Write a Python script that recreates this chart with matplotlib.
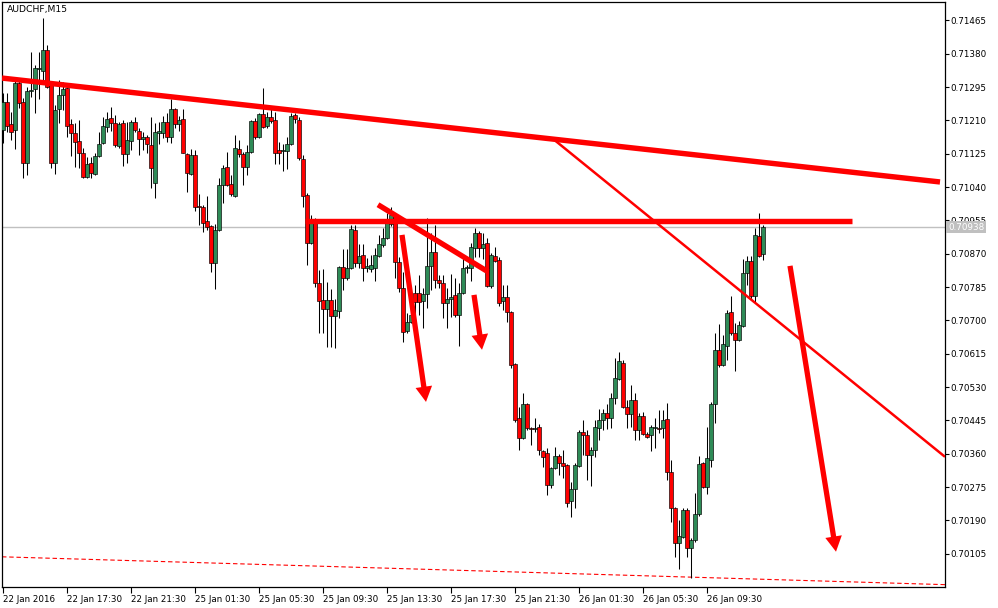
import matplotlib
matplotlib.use("Agg")
import matplotlib.pyplot as plt
from matplotlib.patches import FancyArrowPatch
import numpy as np

title = "AUDCHF,M15"

opens = [
    0.71186, 0.71257, 0.71201, 0.71186, 0.71306, 0.71257, 0.71102, 0.71285, 0.71290, 0.71341,
    0.71336, 0.71390, 0.71301, 0.71102, 0.71239, 0.71275, 0.71293, 0.71201, 0.71178, 0.71158,
    0.71127, 0.71066, 0.71102, 0.71074, 0.71120, 0.71153, 0.71194, 0.71216, 0.71204, 0.71145,
    0.71204, 0.71125, 0.71158, 0.71206, 0.71183, 0.71163, 0.71168, 0.71148, 0.71051, 0.71178,
    0.71178, 0.71206, 0.71168, 0.71239, 0.71201, 0.71214, 0.71125, 0.71074, 0.71122, 0.70992,
    0.70989, 0.70954, 0.70941, 0.70847, 0.70931, 0.71046, 0.71091, 0.71048, 0.71017, 0.71137,
    0.71125, 0.71091, 0.71130, 0.71209, 0.71168, 0.71227, 0.71196, 0.71219, 0.71211, 0.71135,
    0.71132, 0.71132, 0.71150, 0.71224, 0.71211, 0.71112, 0.71020, 0.70898, 0.70949, 0.70796,
    0.70752, 0.70729, 0.70752, 0.70712, 0.70724, 0.70836, 0.70808, 0.70834, 0.70931, 0.70847,
    0.70867, 0.70834, 0.70831, 0.70834, 0.70864, 0.70893, 0.70910, 0.70946, 0.70966, 0.70849,
    0.70783, 0.70673, 0.70696, 0.70770, 0.70770, 0.70750, 0.70768, 0.70839, 0.70875, 0.70803,
    0.70796, 0.70745, 0.70755, 0.70765, 0.70714, 0.70770, 0.70834, 0.70834, 0.70885, 0.70923,
    0.70885, 0.70898, 0.70788, 0.70864, 0.70854, 0.70750, 0.70760, 0.70722, 0.70589, 0.70451,
    0.70400, 0.70487, 0.70426, 0.70423, 0.70428, 0.70367, 0.70362, 0.70281, 0.70324, 0.70354,
    0.70337, 0.70332, 0.70240, 0.70270, 0.70329, 0.70416, 0.70408, 0.70357, 0.70370, 0.70426,
    0.70446, 0.70464, 0.70451, 0.70502, 0.70551, 0.70592, 0.70479, 0.70462, 0.70497, 0.70421,
    0.70456, 0.70411, 0.70408, 0.70426, 0.70426, 0.70426, 0.70449, 0.70314, 0.70222, 0.70133,
    0.70148, 0.70217, 0.70120, 0.70140, 0.70207, 0.70337, 0.70275, 0.70344, 0.70487, 0.70625,
    0.70587, 0.70635, 0.70722, 0.70668, 0.70650, 0.70686, 0.70821, 0.70852, 0.70763, 0.70915,
    0.70870,
]

highs = [
    0.71280, 0.71280, 0.71232, 0.71321, 0.71318, 0.71267, 0.71296, 0.71385, 0.71352, 0.71385,
    0.71471, 0.71403, 0.71308, 0.71250, 0.71313, 0.71308, 0.71301, 0.71214, 0.71204, 0.71211,
    0.71140, 0.71117, 0.71117, 0.71127, 0.71181, 0.71219, 0.71232, 0.71244, 0.71224, 0.71206,
    0.71211, 0.71206, 0.71211, 0.71219, 0.71191, 0.71181, 0.71173, 0.71219, 0.71204, 0.71206,
    0.71222, 0.71229, 0.71265, 0.71242, 0.71222, 0.71239, 0.71127, 0.71137, 0.71135, 0.71023,
    0.70995, 0.71017, 0.70944, 0.70946, 0.71063, 0.71097, 0.71130, 0.71071, 0.71173, 0.71160,
    0.71130, 0.71148, 0.71211, 0.71216, 0.71229, 0.71293, 0.71232, 0.71244, 0.71232, 0.71155,
    0.71150, 0.71168, 0.71229, 0.71229, 0.71219, 0.71122, 0.71025, 0.70969, 0.70961, 0.70829,
    0.70831, 0.70798, 0.70780, 0.70755, 0.70839, 0.70882, 0.70882, 0.70944, 0.70944, 0.70895,
    0.70895, 0.70859, 0.70867, 0.70885, 0.70918, 0.70936, 0.70974, 0.70989, 0.70974, 0.70862,
    0.70824, 0.70719, 0.70770, 0.70791, 0.70816, 0.70783, 0.70961, 0.70923, 0.70944, 0.70816,
    0.70816, 0.70783, 0.70819, 0.70808, 0.70796, 0.70867, 0.70842, 0.70898, 0.70936, 0.70928,
    0.70923, 0.70910, 0.70872, 0.70887, 0.70862, 0.70791, 0.70791, 0.70724, 0.70592, 0.70479,
    0.70515, 0.70490, 0.70428, 0.70451, 0.70436, 0.70370, 0.70375, 0.70326, 0.70377, 0.70360,
    0.70370, 0.70334, 0.70288, 0.70337, 0.70421, 0.70446, 0.70421, 0.70377, 0.70446, 0.70474,
    0.70474, 0.70487, 0.70515, 0.70604, 0.70620, 0.70599, 0.70497, 0.70536, 0.70515, 0.70464,
    0.70467, 0.70416, 0.70434, 0.70451, 0.70472, 0.70472, 0.70490, 0.70344, 0.70224, 0.70191,
    0.70222, 0.70222, 0.70145, 0.70260, 0.70354, 0.70339, 0.70428, 0.70492, 0.70668, 0.70691,
    0.70663, 0.70727, 0.70763, 0.70694, 0.70699, 0.70857, 0.70864, 0.70864, 0.70936, 0.70974,
    0.70944,
]

lows = [
    0.71153, 0.71181, 0.71160, 0.71137, 0.71242, 0.71063, 0.71071, 0.71270, 0.71229, 0.71265,
    0.71308, 0.71293, 0.71089, 0.71074, 0.71204, 0.71237, 0.71168, 0.71120, 0.71091, 0.71089,
    0.71063, 0.71063, 0.71063, 0.71071, 0.71117, 0.71150, 0.71181, 0.71183, 0.71142, 0.71140,
    0.71094, 0.71102, 0.71135, 0.71181, 0.71122, 0.71135, 0.71127, 0.71038, 0.71012, 0.71150,
    0.71165, 0.71155, 0.71153, 0.71191, 0.71183, 0.71127, 0.71028, 0.71071, 0.70979, 0.70944,
    0.70926, 0.70931, 0.70824, 0.70780, 0.70928, 0.71000, 0.71043, 0.71017, 0.71015, 0.71117,
    0.71046, 0.71071, 0.71127, 0.71163, 0.71165, 0.71191, 0.71191, 0.71204, 0.71099, 0.71099,
    0.71081, 0.71086, 0.71148, 0.71204, 0.71109, 0.70989, 0.70842, 0.70895, 0.70785, 0.70668,
    0.70668, 0.70632, 0.70632, 0.70630, 0.70706, 0.70778, 0.70803, 0.70831, 0.70836, 0.70834,
    0.70801, 0.70824, 0.70824, 0.70801, 0.70862, 0.70887, 0.70908, 0.70941, 0.70808, 0.70773,
    0.70645, 0.70668, 0.70694, 0.70683, 0.70714, 0.70681, 0.70732, 0.70778, 0.70783, 0.70783,
    0.70706, 0.70681, 0.70709, 0.70709, 0.70635, 0.70768, 0.70821, 0.70801, 0.70862, 0.70862,
    0.70857, 0.70785, 0.70783, 0.70849, 0.70737, 0.70727, 0.70696, 0.70579, 0.70441, 0.70370,
    0.70398, 0.70421, 0.70383, 0.70416, 0.70357, 0.70326, 0.70255, 0.70273, 0.70321, 0.70306,
    0.70298, 0.70224, 0.70199, 0.70222, 0.70326, 0.70357, 0.70293, 0.70278, 0.70352, 0.70395,
    0.70421, 0.70423, 0.70426, 0.70487, 0.70548, 0.70477, 0.70426, 0.70428, 0.70395, 0.70395,
    0.70408, 0.70400, 0.70367, 0.70375, 0.70413, 0.70400, 0.70293, 0.70186, 0.70097, 0.70066,
    0.70145, 0.70097, 0.70043, 0.70135, 0.70201, 0.70273, 0.70258, 0.70326, 0.70439, 0.70581,
    0.70584, 0.70599, 0.70663, 0.70571, 0.70648, 0.70683, 0.70791, 0.70752, 0.70747, 0.70862,
    0.70854,
]

closes = [
    0.71257, 0.71196, 0.71181, 0.71306, 0.71255, 0.71102, 0.71285, 0.71288, 0.71344, 0.71344,
    0.71390, 0.71296, 0.71102, 0.71237, 0.71275, 0.71290, 0.71196, 0.71178, 0.71155, 0.71127,
    0.71066, 0.71099, 0.71076, 0.71120, 0.71150, 0.71196, 0.71214, 0.71204, 0.71148, 0.71201,
    0.71125, 0.71160, 0.71206, 0.71186, 0.71163, 0.71168, 0.71150, 0.71089, 0.71181, 0.71183,
    0.71206, 0.71168, 0.71239, 0.71201, 0.71211, 0.71127, 0.71076, 0.71122, 0.70989, 0.70989,
    0.70949, 0.70938, 0.70847, 0.70931, 0.71046, 0.71089, 0.71046, 0.71023, 0.71140, 0.71125,
    0.71091, 0.71130, 0.71209, 0.71168, 0.71227, 0.71194, 0.71219, 0.71209, 0.71127, 0.71127,
    0.71135, 0.71150, 0.71222, 0.71214, 0.71114, 0.71017, 0.70898, 0.70949, 0.70796, 0.70750,
    0.70729, 0.70752, 0.70712, 0.70727, 0.70836, 0.70808, 0.70834, 0.70933, 0.70847, 0.70864,
    0.70834, 0.70839, 0.70842, 0.70867, 0.70895, 0.70910, 0.70951, 0.70969, 0.70849, 0.70783,
    0.70671, 0.70696, 0.70714, 0.70747, 0.70747, 0.70768, 0.70839, 0.70875, 0.70803, 0.70796,
    0.70745, 0.70755, 0.70760, 0.70714, 0.70770, 0.70834, 0.70836, 0.70887, 0.70923, 0.70885,
    0.70895, 0.70788, 0.70867, 0.70852, 0.70745, 0.70760, 0.70722, 0.70587, 0.70446, 0.70400,
    0.70487, 0.70426, 0.70423, 0.70426, 0.70370, 0.70352, 0.70281, 0.70324, 0.70354, 0.70337,
    0.70329, 0.70235, 0.70270, 0.70332, 0.70416, 0.70408, 0.70357, 0.70370, 0.70428, 0.70446,
    0.70464, 0.70451, 0.70502, 0.70553, 0.70597, 0.70479, 0.70462, 0.70497, 0.70421, 0.70456,
    0.70411, 0.70403, 0.70428, 0.70428, 0.70423, 0.70446, 0.70314, 0.70222, 0.70133, 0.70150,
    0.70217, 0.70120, 0.70140, 0.70207, 0.70334, 0.70275, 0.70349, 0.70487, 0.70625, 0.70587,
    0.70640, 0.70719, 0.70668, 0.70650, 0.70689, 0.70821, 0.70852, 0.70763, 0.70918, 0.70864,
    0.70938,
]

time_tick_pos = [0, 16, 32, 48, 64, 80, 96, 112, 128, 144, 160, 176]
time_tick_labels = ["22 Jan 2016", "22 Jan 17:30", "22 Jan 21:30", "25 Jan 01:30",
                    "25 Jan 05:30", "25 Jan 09:30", "25 Jan 13:30", "25 Jan 17:30",
                    "25 Jan 21:30", "26 Jan 01:30", "26 Jan 05:30", "26 Jan 09:30"]
price_ticks = [0.70105, 0.70190, 0.70275, 0.70360, 0.70445, 0.70530, 0.70615, 0.70700,
               0.70785, 0.70870, 0.70955, 0.71040, 0.71125, 0.71210, 0.71295, 0.71380, 0.71465]
bid_price = 0.70938

# drawn objects (bar index, price)
trend_x = [-0.25, 234.25]
trend_y = [0.71318, 0.71053]
thin_x = [137.5, 235.5]
thin_y = [0.71163, 0.70352]
level_x = [75.5, 212.25]
level_y = [0.70954, 0.70954]
short_x = [93.75, 121.25]
short_y = [0.70995, 0.70824]
arrow_x0 = [99.75, 117.75, 196.75]
arrow_y0 = [0.70918, 0.70765, 0.70839]
arrow_x1 = [105.75, 119.75, 208.25]
arrow_y1 = [0.70492, 0.70625, 0.70110]
ma_x = [-0.25, 235.5]
ma_y = [0.70097, 0.70026]

plt.rcParams['font.family'] = ['DejaVu Sans']

W, H = 998, 608
fig = plt.figure(figsize=(W / 100, H / 100), dpi=100, facecolor='white')
ax = fig.add_axes([2 / W, (H - 587) / H, (945 - 2) / W, (587 - 2) / H])
ax.set_facecolor('white')
ax.set_xlim(-0.25, 235.5)
ax.set_ylim(0.70020, 0.71512)

o = np.array(opens)
h = np.array(highs)
l = np.array(lows)
c = np.array(closes)
x = np.arange(len(o))
up = c >= o

ax.axhline(bid_price, color='#c0c0c0', lw=1.0, zorder=1)
ax.plot(ma_x, ma_y, color='red', lw=0.8, ls=(0, (4, 2.5)), zorder=1)

ax.vlines(x, l, h, color='black', lw=0.75, zorder=2)
bb = np.minimum(o, c)
bh = np.abs(c - o)
ax.bar(x[up], bh[up], bottom=bb[up], width=0.8, color='#2e8b57',
       edgecolor='black', linewidth=0.45, zorder=3)
ax.bar(x[~up], bh[~up], bottom=bb[~up], width=0.8, color='#ff0000',
       edgecolor='black', linewidth=0.45, zorder=3)

thick = 3.9
ax.plot(trend_x, trend_y, color='red', lw=thick, solid_capstyle='butt', zorder=5)
ax.plot(level_x, level_y, color='red', lw=thick, solid_capstyle='butt', zorder=5)
ax.plot(short_x, short_y, color='red', lw=thick, solid_capstyle='butt', zorder=5)
ax.plot(thin_x, thin_y, color='red', lw=1.8, solid_capstyle='butt', zorder=5)

for xa, ya, xb, yb in zip(arrow_x0, arrow_y0, arrow_x1, arrow_y1):
    ax.add_patch(FancyArrowPatch((xa, ya), (xb, yb),
                                 arrowstyle="simple,head_length=11,head_width=12,tail_width=3.8",
                                 mutation_scale=1, color='red', lw=0,
                                 shrinkA=0, shrinkB=0, zorder=6))

for s in ax.spines.values():
    s.set_color('black')
    s.set_linewidth(0.9)

ax.yaxis.tick_right()
ax.set_yticks(price_ticks)
ax.set_yticklabels([f"{v:.5f}" for v in price_ticks])
ax.tick_params(axis='y', direction='out', length=3, width=0.8, pad=1.2,
               labelsize=6.3, colors='black')
ax.set_xticks(time_tick_pos)
ax.set_xticklabels(time_tick_labels)
for lab in ax.get_xticklabels():
    lab.set_horizontalalignment('left')
ax.tick_params(axis='x', direction='out', length=4, width=0.8, pad=1.5,
               labelsize=6.3, colors='black')

ax.text(0.0055, 0.995, title, transform=ax.transAxes, ha='left', va='top',
        fontsize=6.7, color='black', zorder=10)

ax.annotate(f"{bid_price:.5f}", xy=(1, bid_price), xycoords=('axes fraction', 'data'),
            xytext=(3, 0), textcoords='offset pixels', ha='left', va='center',
            color='white', fontsize=6.3, annotation_clip=False, zorder=10,
            bbox=dict(boxstyle='square,pad=0.2', fc='#c0c0c0', ec='none'))

fig.savefig('out.png', dpi=100, facecolor='white')
